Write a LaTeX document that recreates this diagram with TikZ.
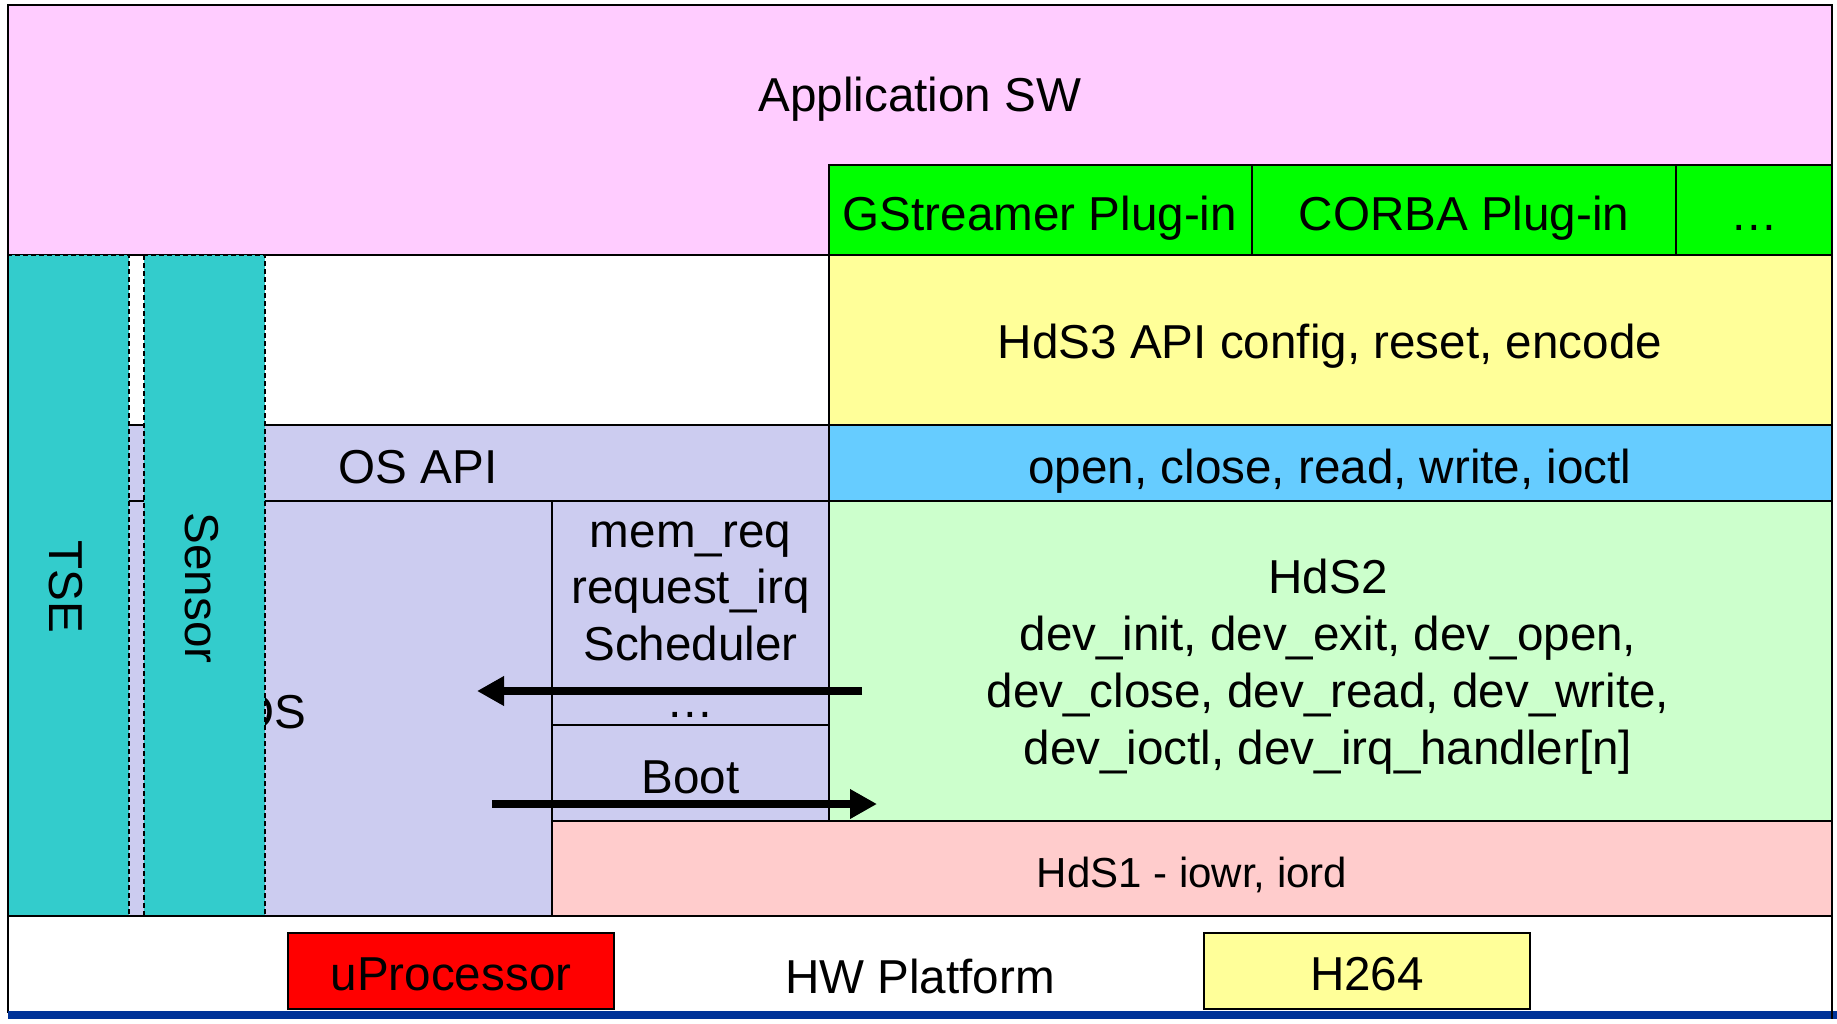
\documentclass[tikz,border=0pt]{standalone}
\usepackage{fontspec}
\setmainfont{Liberation Sans}
\usetikzlibrary{arrows.meta}
\definecolor{appsw}{HTML}{FFCCFF}
\definecolor{plug}{HTML}{00FF00}
\definecolor{hds3}{HTML}{FFFF99}
\definecolor{posix}{HTML}{66CCFF}
\definecolor{oscol}{HTML}{CCCCF0}
\definecolor{hds2}{HTML}{CCFFCC}
\definecolor{hds1}{HTML}{FFCCCC}
\definecolor{side}{HTML}{33CCCC}
\definecolor{bar}{HTML}{003399}
\begin{document}
\begin{tikzpicture}[x=1pt,y=-1pt,
  blk/.style={draw=black,line width=2pt},
  sidebox/.style={draw=black,fill=side,line width=2pt,dash pattern=on 5pt off 3pt},
  lbl/.style={font=\fontsize{47.6}{57}\selectfont,inner sep=0pt,anchor=base},
  lblsmall/.style={font=\fontsize{42}{50}\selectfont,inner sep=0pt,anchor=base},
  flow/.style={line width=8pt,-{Triangle[length=27pt,width=28pt]}}]
\useasboundingbox (0,0) rectangle (1837,1023);
\fill[white] (0,0) rectangle (1837,1023);
% Application SW
\path[blk,fill=appsw] (8,5) rectangle (1832,255);
\node[lbl] (app) at (920,111) {Application SW};
% plug-ins
\path[blk,fill=plug] (829,165) rectangle (1252,255);
\path[blk,fill=plug] (1252,165) rectangle (1676,255);
\path[blk,fill=plug] (1676,165) rectangle (1832,255);
\node[lbl] (gst) at (1040,230) {GStreamer Plug-in};
\node[lbl] (corba) at (1464,230) {CORBA Plug-in};
\node[lbl] (etc) at (1754,230) {…};
% HdS3
\path[blk,fill=hds3] (829,255) rectangle (1832,425);
\node[lbl] (hds3) at (1330,358) {HdS3 API config, reset, encode};
% OS API / posix
\path[blk,fill=oscol] (8,425) rectangle (829,501);
\node[lbl] (osapi) at (418,483) {OS API};
\path[blk,fill=posix] (829,425) rectangle (1832,501);
\node[lbl] (posix) at (1330,483) {open, close, read, write, ioctl};
% OS
\path[blk,fill=oscol] (8,501) rectangle (552,916);
\node[lbl] (os) at (272,728) {OS};
\path[blk,fill=oscol] (552,501) rectangle (829,725);
\node[lbl] (m1) at (690.5,547) {mem\_req};
\node[lbl] (m2) at (690.5,603.5) {request\_irq};
\node[lbl] (m3) at (690.5,660) {Scheduler};
\node[lbl] (m4) at (690.5,717) {…};
\path[blk,fill=oscol] (552,725) rectangle (829,821);
\node[lbl] (boot) at (690.5,793) {Boot};
% HdS2
\path[blk,fill=hds2] (829,501) rectangle (1832,821);
\node[lbl] (h1) at (1328,593) {HdS2};
\node[lbl] (h2) at (1328,650) {dev\_init, dev\_exit, dev\_open,};
\node[lbl] (h3) at (1328,707) {dev\_close, dev\_read, dev\_write,};
\node[lbl] (h4) at (1328,764) {dev\_ioctl, dev\_irq\_handler[n]};
% HdS1
\path[blk,fill=hds1] (552,821) rectangle (1832,916);
\node[lblsmall] (hds1) at (1192,887) {HdS1 - iowr, iord};
% HW platform
\path[blk,fill=white] (8,916) rectangle (1832,1012);
\node[lbl] (hw) at (920,993) {HW Platform};
\path[draw=black,line width=1.5pt,fill=red] (288,933) rectangle (614,1009);
\node[lbl] (up) at (451,990) {uProcessor};
\path[draw=black,line width=1.5pt,fill=hds3] (1204,933) rectangle (1530,1009);
\node[lbl] (h264) at (1367,990) {H264};
\fill[bar] (8,1011) rectangle (1837,1019);
% side columns
\path[sidebox] (8,255) rectangle (129,916);
\path[sidebox] (144,255) rectangle (265,916);
\node[font=\fontsize{47.6}{57}\selectfont,inner sep=0pt,rotate=-90] (tse) at (65.5,587) {TSE};
\node[font=\fontsize{47.6}{57}\selectfont,inner sep=0pt,rotate=-90] (sensor) at (201.5,588) {Sensor};
% outer frame
\draw[line width=2pt] (8,1011) -- (8,5) -- (1832,5) -- (1832,1019);
\draw[line width=2.5pt] (8,916) -- (1832,916);
% arrows
\coordinate (a1s) at (862,691);
\coordinate (a1e) at (477,691);
\coordinate (a2s) at (492,804);
\coordinate (a2e) at (877,804);
\draw[flow] (a1s) -- (a1e);
\draw[flow] (a2s) -- (a2e);
\end{tikzpicture}
\end{document}
